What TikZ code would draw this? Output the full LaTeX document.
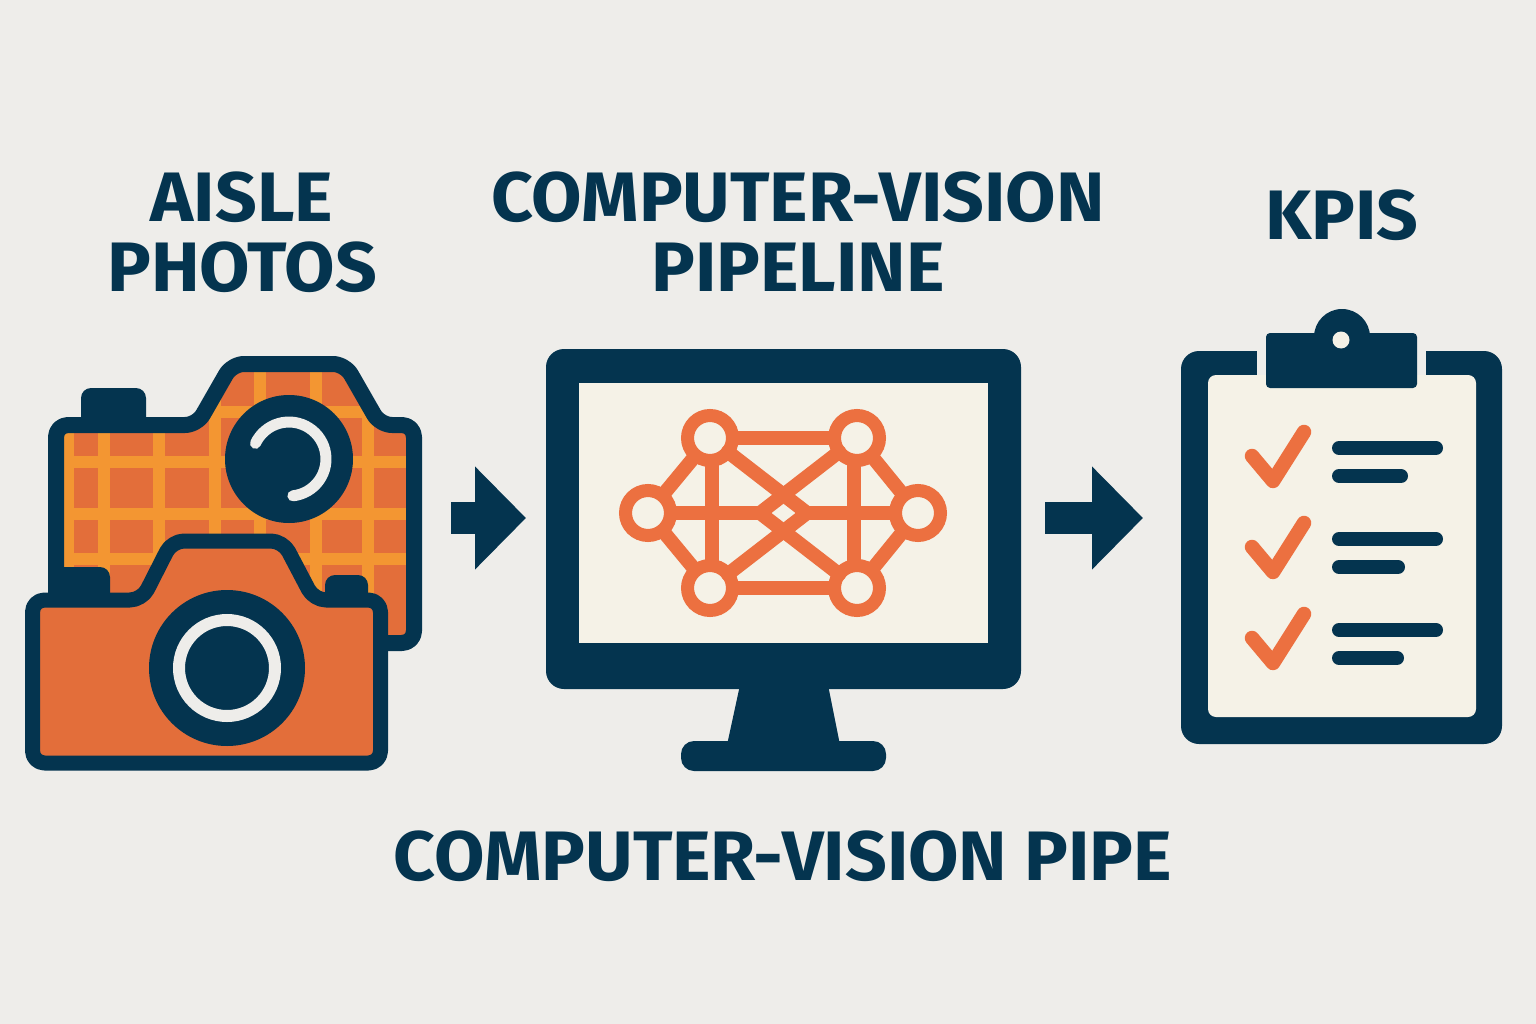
\documentclass[tikz,border=0pt]{standalone}
\usepackage{xcolor}
\usepackage{fontspec}
\usetikzlibrary{arrows.meta,calc}
\setmainfont{Fira Sans}[BoldFont={Fira Sans Bold},BoldFeatures={FakeStretch=1.044}]
\definecolor{navy}{HTML}{04344F}
\definecolor{paper}{HTML}{EEEDEA}
\definecolor{cream}{HTML}{F5F2E7}
\definecolor{rust}{HTML}{E36E3A}
\definecolor{web}{HTML}{EC7040}
\definecolor{amber}{HTML}{F39632}
\tikzset{
  title/.style={font=\bfseries\fontsize{70}{70}\selectfont,text=navy,align=center,inner sep=0pt},
  solid/.style={fill=navy,draw=none},
  body/.style={draw=navy,line width=16pt,line join=round,rounded corners=12pt},
  grid/.style={draw=amber,line width=11.5pt},
  link/.style={draw=web,line width=14pt},
  hub/.style={circle,draw=web,line width=13pt,minimum size=45pt,inner sep=0pt,outer sep=0pt},
  flow/.style={-{Triangle[length=51pt,width=100pt]},draw=navy,fill=navy,line width=32pt},
  tick/.style={draw=web,line width=14.5pt,line cap=round,line join=round},
  bar/.style={draw=navy,line width=14pt,line cap=round}
}
\begin{document}
\begin{tikzpicture}[x=1pt,y=-1pt]
  \useasboundingbox[fill=paper] (0,0) rectangle (1536,1024);
  % headings
  \node[title] (photos) at (242,232) {AISLE\\PHOTOS};
  \node[title] (pipeline) at (798,232) {COMPUTER-VISION\\PIPELINE};
  \node[title] (kpis) at (1342,215) {KPIS};
  \node[title] (caption) at (783,856) {COMPUTER-VISION PIPE};
  % back camera
  \fill[solid,rounded corners=10pt] (81,388) rectangle (146,430);
  \fill[rust,rounded corners=12pt] (56,425) -- (197,425) -- (232,364) -- (345,364) -- (380,425) -- (414,425) -- (414,643) -- (56,643) -- cycle;
  \begin{scope}
    \clip[rounded corners=12pt] (56,425) -- (197,425) -- (232,364) -- (345,364) -- (380,425) -- (414,425) -- (414,643) -- (56,643) -- cycle;
    \foreach \x in {68,104,159,215,260,316,368}
      \draw[grid] (\x,356) -- (\x,650);
    \foreach \y in {412,462,514,559}
      \draw[grid] (48,\y) -- (421,\y);
  \end{scope}
  \draw[body] (56,425) -- (197,425) -- (232,364) -- (345,364) -- (380,425) -- (414,425) -- (414,643) -- (56,643) -- cycle;
  \fill[solid] (289,459) circle (64);
  \draw[draw=paper,line width=11pt,line cap=round] plot[smooth,samples=40,domain=155:-84] ({289+37*cos(\x)},{459-37*sin(\x)});
  % front camera
  \fill[solid,rounded corners=10pt] (55,567) rectangle (110,610);
  \fill[solid,rounded corners=10pt] (325,575) rectangle (368,610);
  \draw[body,line width=15pt,fill=rust] (32.5,600) -- (142,600) -- (172,541) -- (283,541) -- (314,600) -- (380.5,600) -- (380.5,763) -- (32.5,763) -- cycle;
  \fill[solid] (227,668) circle (78);
  \draw[draw=paper,line width=12pt] (227,668) circle (48);
  % first arrow
  \coordinate (flowAin) at (451,518);
  \coordinate (flowAout) at (526,518);
  \draw[flow] (flowAin) -- (flowAout);
  % monitor
  \fill[solid] (740,685) -- (828,685) -- (840,745) -- (727,745) -- cycle;
  \fill[solid,rounded corners=13pt] (681,741) rectangle (886,771);
  \fill[solid,rounded corners=18pt] (546,349) rectangle (1021,689);
  \fill[cream] (579,383) rectangle (988,643);
  % network on the screen
  \node[hub] (nodeTL) at (710,438) {};
  \node[hub] (nodeTR) at (857,438) {};
  \node[hub] (nodeL) at (648,513) {};
  \node[hub] (nodeR) at (918,513) {};
  \node[hub] (nodeBL) at (710,588) {};
  \node[hub] (nodeBR) at (857,588) {};
  \coordinate (midL) at (760,513);
  \coordinate (midR) at (807,513);
  \draw[link] (nodeTL) -- (nodeTR);
  \draw[link] (nodeBL) -- (nodeBR);
  \draw[link] (nodeL) -- (nodeTL);
  \draw[link] (nodeL) -- (nodeBL);
  \draw[link] (nodeR) -- (nodeTR);
  \draw[link] (nodeR) -- (nodeBR);
  \draw[link] ([xshift=2pt]nodeTL.south) -- ([xshift=2pt]nodeBL.north);
  \draw[link] ([xshift=-3pt]nodeTR.south) -- ([xshift=-3pt]nodeBR.north);
  \draw[link] (nodeL) -- (midL);
  \draw[link] (midR) -- (nodeR);
  \draw[link,line cap=round] (nodeTL) -- (midR);
  \draw[link,line cap=round] (nodeBL) -- (midR);
  \draw[link,line cap=round] (nodeTR) -- (midL);
  \draw[link,line cap=round] (nodeBR) -- (midL);
  % second arrow
  \coordinate (flowBin) at (1045,518);
  \coordinate (flowBout) at (1143,518);
  \draw[flow] (flowBin) -- (flowBout);
  % clipboard
  \fill[solid,rounded corners=18pt] (1181,351) rectangle (1502,744);
  \fill[cream,rounded corners=8pt] (1208,375) rectangle (1476,717);
  \fill[paper] (1257,349) rectangle (1426,375);
  \fill[cream] (1257,375) rectangle (1426,392);
  \fill[solid,rounded corners=4pt] (1266,333) rectangle (1417,388);
  \fill[solid] (1342,337) circle (28);
  \fill[cream] (1341,340) circle (8.5);
  \foreach \y/\w in {0/1401,91/1398,182/1397}{
    \draw[tick] (1252,456+\y) -- (1273,481+\y) -- (1304,432+\y);
    \draw[bar] (1339,448+\y) -- (1436,448+\y);
    \draw[bar] (1339,476+\y) -- (\w,476+\y);
  }
\end{tikzpicture}
\end{document}
